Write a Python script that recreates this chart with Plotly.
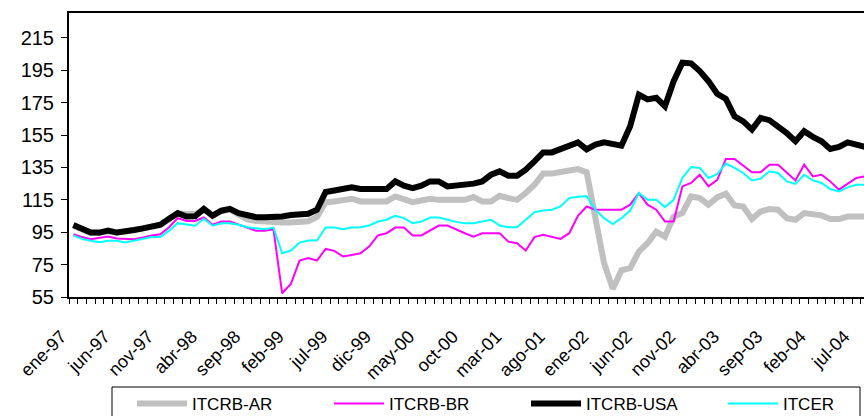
import plotly.graph_objects as go

month_names = ["ene", "feb", "mar", "abr", "may", "jun", "jul", "ago", "sep", "oct", "nov", "dic"]
years = ["97", "98", "99", "00", "01", "02", "03", "04"]
months = [f"{m}-{y}" for y in years for m in month_names][:92]

itcrb_ar = [99.0, 96.8, 94.5, 94.5, 95.5, 94.5, 95.5, 96.0, 97.0, 98.0,
            99.3, 103.0, 106.5, 106.3, 106.3, 109.0, 105.0, 108.0, 109.0, 105.8,
            103.0, 102.0, 101.5, 101.0, 101.0, 101.0, 101.3, 101.8, 104.5, 113.5,
            114.0, 114.6, 115.7, 114.0, 114.0, 114.0, 114.0, 117.1, 115.7, 113.6,
            114.6, 115.7, 115.0, 115.0, 115.0, 115.0, 116.7, 114.0, 114.0, 117.5,
            116.1, 115.0, 119.2, 124.3, 131.2, 131.2, 132.2, 133.0, 134.0, 132.0,
            103.0, 76.0, 60.0, 71.5, 72.8, 83.1, 88.2, 95.4, 92.3, 104.7,
            106.8, 117.1, 116.1, 112.0, 116.5, 118.8, 111.5, 110.9, 103.1, 107.8,
            109.3, 108.9, 103.7, 102.7, 106.8, 105.8, 105.4, 103.1, 103.1, 104.7,
            104.7, 104.7]

itcrb_br = [93.8, 92.0, 90.7, 91.7, 92.3, 91.1, 90.7, 90.7, 91.7, 93.0,
            93.8, 98.1, 103.7, 102.0, 102.0, 104.1, 99.6, 101.6, 101.6, 99.6,
            97.9, 95.9, 95.9, 96.9, 57.3, 63.0, 77.5, 79.0, 77.5, 84.7,
            83.5, 80.0, 81.0, 82.0, 86.1, 93.0, 94.4, 97.9, 97.9, 93.0,
            93.0, 96.0, 99.1, 99.1, 96.5, 94.4, 92.3, 94.4, 94.4, 94.4,
            89.2, 88.2, 83.7, 92.0, 93.4, 92.3, 90.9, 94.4, 105.2, 110.9,
            108.9, 108.9, 108.9, 108.9, 112.0, 119.2, 112.0, 108.9, 101.6, 101.6,
            123.3, 125.4, 130.5, 123.3, 127.2, 140.3, 140.3, 136.1, 132.0, 132.0,
            136.7, 136.7, 131.6, 127.0, 136.7, 129.5, 130.5, 126.4, 121.3, 125.0,
            128.5, 129.5]

itcrb_usa = [99.5, 97.3, 94.8, 94.8, 96.0, 94.8, 96.0, 96.4, 97.4, 98.5,
             99.7, 103.4, 106.8, 104.7, 104.9, 109.4, 105.3, 108.3, 109.4, 106.8,
             105.2, 104.3, 104.3, 104.3, 104.7, 105.6, 105.7, 106.4, 108.9, 119.9,
             120.8, 121.7, 122.7, 121.7, 121.7, 121.7, 121.7, 126.4, 123.7, 122.3,
             123.7, 126.4, 126.4, 123.3, 123.7, 124.8, 125.0, 126.4, 130.5, 132.6,
             129.9, 129.9, 133.6, 138.8, 144.3, 144.3, 146.4, 147.7, 150.5, 146.2,
             149.1, 150.5, 149.1, 148.5, 160.4, 180.0, 177.0, 178.0, 172.8, 188.3,
             199.7, 199.3, 194.5, 188.3, 180.5, 177.4, 166.6, 163.5, 158.4, 165.6,
             164.2, 160.4, 156.3, 151.2, 157.4, 153.9, 151.2, 146.4, 147.7, 150.5,
             149.1, 147.7]

itcer = [93.0, 90.9, 89.7, 88.8, 89.7, 89.7, 88.6, 89.7, 90.7, 92.0,
         92.0, 96.0, 100.6, 99.6, 99.0, 103.3, 99.0, 100.6, 100.6, 99.6,
         98.1, 97.5, 96.9, 97.9, 82.0, 83.7, 88.6, 89.9, 89.9, 97.9,
         97.9, 96.9, 97.9, 98.1, 99.1, 101.6, 102.7, 105.2, 103.7, 100.6,
         101.6, 104.1, 104.1, 102.7, 101.4, 100.6, 100.6, 101.6, 102.7, 99.1,
         98.1, 98.1, 102.7, 107.4, 108.4, 108.9, 110.9, 116.1, 116.9, 117.3,
         108.9, 103.7, 100.0, 103.7, 108.4, 119.2, 115.0, 115.0, 110.5, 115.0,
         128.5, 135.3, 134.7, 128.5, 130.8, 137.4, 134.7, 131.6, 127.0, 128.1,
         132.6, 131.6, 126.4, 124.8, 130.5, 127.0, 125.4, 121.7, 120.2, 122.7,
         124.3, 124.3]

y_ticks = [55, 75, 95, 115, 135, 155, 175, 195, 215]

x = list(range(len(months)))
FONT = "Liberation Sans, Arial, sans-serif"

series = [
    ("ITCRB-AR", itcrb_ar, "#C0C0C0", 6),
    ("ITCRB-BR", itcrb_br, "#FF00FF", 2),
    ("ITCRB-USA", itcrb_usa, "#000000", 6),
    ("ITCER", itcer, "#00FFFF", 2),
]

fig = go.Figure()
for name, vals, color, w in series:
    fig.add_trace(go.Scatter(x=x, y=vals, mode="lines", name=name,
                             line=dict(color=color, width=w)))

PW, PH, L, T = 795, 284, 69, 13

fig.update_layout(
    width=864, height=416,
    margin=dict(l=L, r=0, t=T, b=416 - T - PH, autoexpand=False),
    paper_bgcolor="white", plot_bgcolor="white",
    font=dict(family=FONT, color="black"),
    showlegend=True,
    legend=dict(
        orientation="h", x=(132 - L) / PW, xanchor="left",
        y=-(386 - 297) / PH, yanchor="top",
        borderwidth=0, bgcolor="rgba(0,0,0,0)",
        font=dict(family=FONT, size=17, color="black"),
        itemwidth=50,
        entrywidth=132, entrywidthmode="pixels",
        traceorder="normal",
    ),
    shapes=[dict(type="rect", xref="paper", yref="paper",
                 x0=(112 - L) / PW, x1=(860 - L) / PW,
                 y0=-(387 - 297) / PH, y1=-(425 - 297) / PH,
                 line=dict(color="black", width=1), fillcolor="rgba(0,0,0,0)",
                 layer="above")],
)

fig.update_xaxes(
    range=[-0.5, (864 - 73.35) / 8.7],
    tickmode="array", tickvals=x[::5], ticktext=months[::5],
    tickangle=-45, ticks="", ticklabelstandoff=20, ticklabelshift=-12,
    tickfont=dict(family=FONT, size=18, color="black"),
    showline=True, linecolor="black", linewidth=2, mirror=True,
    showgrid=False, zeroline=False,
    minor=dict(tickmode="array", tickvals=[k - 0.5 for k in range(len(months) + 1)],
               ticks="outside", ticklen=5, tickcolor="black", tickwidth=1, showgrid=False),
)
fig.update_yaxes(
    range=[55, 230.4],
    tickmode="array", tickvals=y_ticks,
    ticks="outside", ticklen=6, tickcolor="black", tickwidth=1,
    ticklabelstandoff=3,
    tickfont=dict(family=FONT, size=20, color="black"),
    showline=True, linecolor="black", linewidth=2,
    showgrid=False, zeroline=False,
)

fig.write_html("out.html", config={"displayModeBar": False},
               post_script="document.body.style.margin='0';document.body.style.overflow='hidden';")
